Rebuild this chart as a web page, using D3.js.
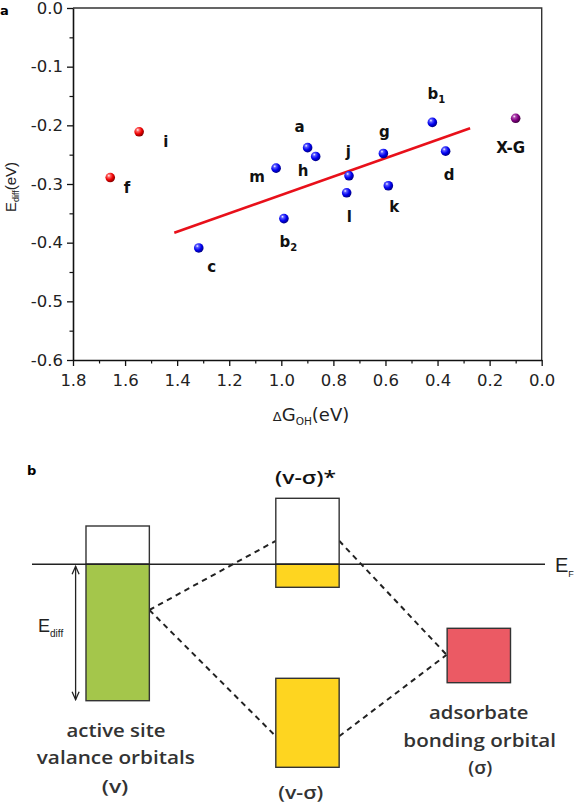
<!DOCTYPE html>
<html><head><meta charset="utf-8">
<script src="https://cdn.jsdelivr.net/npm/d3@7"></script>
<style>body{margin:0;background:#fff}svg{display:block}</style>
</head><body><svg id="c" width="574" height="804"></svg>
<script>
// ---------- Data: panel a ----------
const labels = ["a","b1","b2","c","d","f","g","h","i","j","k","l","m","X-G"];
const dG     = [0.899,0.420,0.990,1.317,0.369,1.657,0.608,0.868,1.546,0.740,0.589,0.749,1.020,0.100];
const Ediff  = [-0.238,-0.195,-0.359,-0.409,-0.244,-0.289,-0.248,-0.253,-0.211,-0.286,-0.303,-0.315,-0.273,-0.188];
const groups = ["blue","blue","blue","blue","blue","red","blue","blue","red","blue","blue","blue","blue","purple"];
const fitDG  = [1.411,0.275];
const fitE   = [-0.383,-0.205];
const xTicks = [1.8,1.6,1.4,1.2,1.0,0.8,0.6,0.4,0.2,0.0];
const yTicks = [0.0,-0.1,-0.2,-0.3,-0.4,-0.5,-0.6];

// ---------- Data: panel b (schematic energies, arbitrary units, E_F = 0) ----------
const orbNames  = ["v","vs","s"];
const orbPos    = [0.167,0.537,0.871];     // column centres (fraction of width)
const orbWidth  = 0.1235;
const emptyTop  = [0.383,0.66,null];        // top of unoccupied part
const filledTop = [0.0,0.0,-0.64];
const filledBot = [-1.364,-0.23,-1.184];
const bondTop   = -1.14, bondBot = -2.03;   // (v-σ) bonding level
const connV = -0.457, connStar = 0.235, connBond = -1.72, connSig = -0.905;

// ---------- Layout (positions / styles, not data) ----------
const labelOff = {"a":[-8,-16],"b1":[4,-23.5],"b2":[4.5,28],"c":[13,24],"d":[3.6,29],"f":[16.7,15.7],
  "g":[1,-16],"h":[-12.7,20],"i":[26.7,15.3],"j":[-0.7,-19],"k":[6,26.6],"l":[2.6,29],"m":[-19,13.7],"X-G":[-5,34.4]};
const colors = {
  blue:["#ffffff","#5a5aff","#0000f0","#00007a"],
  red:["#ffffff","#ff6a6a","#ee0000","#7a0000"],
  purple:["#ffffff","#b24db2","#800080","#3a003a"]};

const svg = d3.select("#c");
const defs = svg.append("defs");
Object.entries(colors).forEach(([k,c])=>{
  const g = defs.append("radialGradient").attr("id","g_"+k)
    .attr("cx","38%").attr("cy","35%").attr("r","68%").attr("fx","35%").attr("fy","30%");
  g.append("stop").attr("offset","0%").attr("stop-color",c[0]);
  g.append("stop").attr("offset","22%").attr("stop-color",c[1]);
  g.append("stop").attr("offset","60%").attr("stop-color",c[2]);
  g.append("stop").attr("offset","100%").attr("stop-color",c[3]);
});

const FONT = "'DejaVu Sans', sans-serif";
const x = d3.scaleLinear().domain([1.8,0]).range([73,541.7]);
const y = d3.scaleLinear().domain([-0.6,0]).range([360,8]);

// frame (top, right)
svg.append("path").attr("d",`M${x(1.8)},${y(0)}H${x(0)}V${y(-0.6)}`)
  .attr("fill","none").attr("stroke","#333").attr("stroke-width",1.4);

// minor ticks
const fmt = d => d.toFixed(1);
const yMinor = yTicks.slice(0,-1).map(d=>+(d-0.05).toFixed(2));
const xMinor = xTicks.slice(0,-1).map(d=>+(d-0.1).toFixed(2));
svg.append("g").attr("transform",`translate(${x(1.8)},0)`)
  .call(d3.axisLeft(y).tickValues(yMinor).tickSize(3.5).tickFormat("").tickSizeOuter(0))
  .call(g=>g.select(".domain").remove()).selectAll("line").attr("stroke","#111").attr("stroke-width",1.2);
svg.append("g").attr("transform",`translate(0,${y(-0.6)})`)
  .call(d3.axisBottom(x).tickValues(xMinor).tickSize(3.5).tickFormat("").tickSizeOuter(0))
  .call(g=>g.select(".domain").remove()).selectAll("line").attr("stroke","#111").attr("stroke-width",1.2);

const yAx = svg.append("g").attr("transform",`translate(${x(1.8)},0)`)
  .call(d3.axisLeft(y).tickValues(yTicks).tickFormat(fmt).tickSize(6).tickSizeOuter(0).tickPadding(4));
const xAx = svg.append("g").attr("transform",`translate(0,${y(-0.6)})`)
  .call(d3.axisBottom(x).tickValues(xTicks).tickFormat(fmt).tickSize(6).tickSizeOuter(0).tickPadding(8));
[yAx,xAx].forEach(a=>{
  a.select(".domain").attr("stroke","#111").attr("stroke-width",1.6);
  a.selectAll(".tick line").attr("stroke","#111").attr("stroke-width",1.3);
  a.selectAll(".tick text").attr("font-family",FONT).attr("font-size",16.5).attr("fill","#222");
});

// fit line
svg.append("line").attr("x1",x(fitDG[0])).attr("y1",y(fitE[0])).attr("x2",x(fitDG[1])).attr("y2",y(fitE[1]))
  .attr("stroke","#e8101a").attr("stroke-width",2.6);

// points
const pts = labels.map((l,i)=>({l,x:dG[i],y:Ediff[i],g:groups[i]}));
svg.append("g").selectAll("circle").data(pts).join("circle")
  .attr("cx",d=>x(d.x)).attr("cy",d=>y(d.y)).attr("r",4.8)
  .attr("fill",d=>`url(#g_${d.g})`);

// point labels
const lab = svg.append("g").attr("font-family",FONT).attr("font-weight","bold").attr("font-size",15).attr("fill","#111");
pts.forEach(d=>{
  const o = labelOff[d.l];
  const t = lab.append("text").attr("x",x(d.x)+o[0]).attr("y",y(d.y)+o[1]).attr("text-anchor","middle");
  const m = d.l.match(/^b(\d)$/);
  if(m){ t.append("tspan").text("b"); t.append("tspan").attr("font-size",10).attr("dy",4).text(m[1]); }
  else t.text(d.l);
});

// axis titles
const xt = svg.append("text").attr("x",311).attr("y",421).attr("text-anchor","middle")
  .attr("font-family",FONT).attr("fill","#222");
xt.append("tspan").attr("font-size",13).text("Δ");
xt.append("tspan").attr("font-size",18).text("G");
xt.append("tspan").attr("font-size",10.5).attr("dy",4).text("OH");
xt.append("tspan").attr("font-size",18).attr("dy",-4).text("(eV)");

const yt = svg.append("text").attr("transform","translate(16,187) rotate(-90)").attr("text-anchor","middle")
  .attr("font-family","'Liberation Sans', Arial, sans-serif").attr("fill","#222");
yt.append("tspan").attr("font-size",15).text("E");
yt.append("tspan").attr("font-size",9).attr("dy",3).text("diff");
yt.append("tspan").attr("font-size",15).attr("dy",-3).text("(eV)");

// panel letters
svg.append("text").attr("x",0).attr("y",15).attr("font-family",FONT).attr("font-weight","bold").attr("font-size",13).text("a");
svg.append("text").attr("x",27).attr("y",475).attr("font-family",FONT).attr("font-weight","bold").attr("font-size",13).text("b");

// ---------- Panel b ----------
const bx = d3.scaleLinear().domain([0,1]).range([32,545]);
const by = d3.scaleLinear().domain([-1,0]).range([664.3,564.3]);
const fills = ["#a4c64b","#fed520","#eb5a64"];
const BOX = "#333";
const halfW = orbWidth/2;

// dashed connectors (drawn under boxes)
const conns = [
  [orbPos[0]+halfW, connV, orbPos[1]-halfW, connStar],
  [orbPos[0]+halfW, connV, orbPos[1]-halfW, connBond],
  [orbPos[1]+halfW, connStar, orbPos[2]-orbWidth/2-0.001, connSig],
  [orbPos[1]+halfW, connBond, orbPos[2]-orbWidth/2-0.001, connSig]];
svg.append("g").selectAll("line").data(conns).join("line")
  .attr("x1",d=>bx(d[0])).attr("y1",d=>by(d[1])).attr("x2",d=>bx(d[2])).attr("y2",d=>by(d[3]))
  .attr("stroke","#222").attr("stroke-width",2).attr("stroke-dasharray","5.5,4.5");

// orbital boxes
orbNames.forEach((n,i)=>{
  if(emptyTop[i]!==null){
    svg.append("rect").attr("x",bx(orbPos[i]-halfW)).attr("y",by(emptyTop[i]))
      .attr("width",bx(orbWidth)-bx(0)).attr("height",by(filledTop[i])-by(emptyTop[i]))
      .attr("fill","#fff").attr("stroke",BOX).attr("stroke-width",1.4);
  }
  svg.append("rect").attr("x",bx(orbPos[i]-halfW)).attr("y",by(filledTop[i]))
    .attr("width",bx(orbWidth)-bx(0)).attr("height",by(filledBot[i])-by(filledTop[i]))
    .attr("fill",fills[i]).attr("stroke",BOX).attr("stroke-width",1.4);
});
svg.append("rect").attr("x",bx(orbPos[1]-halfW)).attr("y",by(bondTop))
  .attr("width",bx(orbWidth)-bx(0)).attr("height",by(bondBot)-by(bondTop))
  .attr("fill",fills[1]).attr("stroke",BOX).attr("stroke-width",1.4);

// Fermi level
svg.append("line").attr("x1",bx(0)).attr("x2",bx(1)).attr("y1",by(0)).attr("y2",by(0))
  .attr("stroke","#222").attr("stroke-width",1.6);
const ef = svg.append("text").attr("x",555).attr("y",571.7).attr("font-family","'Liberation Sans', Arial, sans-serif").attr("fill","#222");
ef.append("tspan").attr("font-size",20).text("E");
ef.append("tspan").attr("font-size",9).attr("dy",5).text("F");

// E_diff arrow
const ax = bx(0.085), aTop = by(0)+2, aBot = by(filledBot[0])-1;
svg.append("line").attr("x1",ax).attr("x2",ax).attr("y1",aTop).attr("y2",aBot).attr("stroke","#222").attr("stroke-width",1.3);
svg.append("path").attr("d",`M${ax-3.5},${aTop+8}L${ax},${aTop}L${ax+3.5},${aTop+8}M${ax-3.5},${aBot-8}L${ax},${aBot}L${ax+3.5},${aBot-8}`)
  .attr("fill","none").attr("stroke","#222").attr("stroke-width",1.3);
const ed = svg.append("text").attr("x",38).attr("y",631.7).attr("font-family","'Liberation Sans', Arial, sans-serif").attr("fill","#222");
ed.append("tspan").attr("font-size",18).text("E");
ed.append("tspan").attr("font-size",10).attr("dy",5).text("diff");

// diagram captions
const caps = [
  ["(v-σ)*",305.5,484,61,"#111"],
  ["active site",116,736.7,99,"#333"],
  ["valance orbitals",115.8,764,158,"#333"],
  ["(v)",115,792.5,26.7,"#333"],
  ["adsorbate",478.7,719,99.3,"#333"],
  ["bonding orbital",479.7,746.7,152.7,"#333"],
  ["(σ)",480.3,773.5,24,"#333"],
  ["(v-σ)",300.8,799,45,"#333"]];
svg.append("g").selectAll("text").data(caps).join("text")
  .attr("x",d=>d[1]).attr("y",d=>d[2]).attr("text-anchor","middle")
  .attr("textLength",d=>d[3]).attr("lengthAdjust","spacingAndGlyphs")
  .attr("font-family","'Open Sans', sans-serif").attr("font-weight",600).attr("font-size",18)
  .attr("fill",d=>d[4]).text(d=>d[0]);
</script></body></html>
